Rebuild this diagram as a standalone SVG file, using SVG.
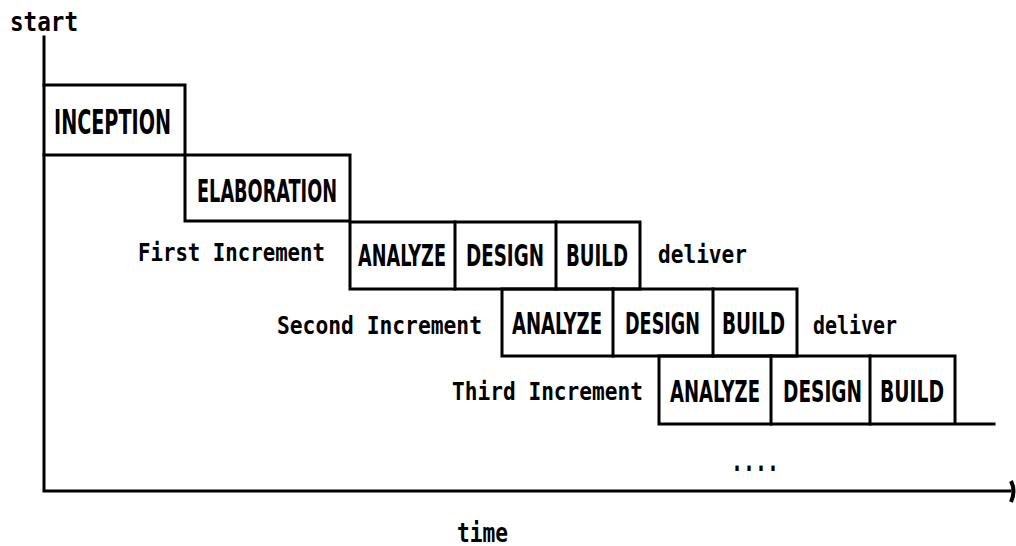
<svg xmlns="http://www.w3.org/2000/svg" width="1016" height="546" viewBox="0 0 1016 546">
<style>
.ln{fill:none;stroke:#000;stroke-width:3;stroke-linecap:square}
.cap{font-family:"DejaVu Sans Condensed","DejaVu Sans",sans-serif;font-weight:bold;fill:#000}
.txt{font-family:"DejaVu Sans Mono","Liberation Mono",monospace;font-weight:bold;fill:#000}
</style>
<rect width="1016" height="546" fill="#fff"/>
<g id="connectors">
<path class="ln" d="M44,37 V491 H1010"/>
<path class="ln" d="M1011,481 Q1016,491 1011,502" style="stroke-width:4;stroke-linecap:butt"/>
</g>
<g id="inception">
<path class="ln" d="M44,85 H185 V155 H44"/>
<text class="cap" x="54" y="134" font-size="34" textLength="117" lengthAdjust="spacingAndGlyphs">INCEPTION</text>
</g>
<g id="elaboration">
<path class="ln" d="M185,155 H350 V221 H185 Z"/>
<text class="cap" x="197" y="202" font-size="32" textLength="140" lengthAdjust="spacingAndGlyphs">ELABORATION</text>
</g>
<g id="first-increment">
<text class="txt" x="138" y="261" font-size="25" textLength="187" lengthAdjust="spacingAndGlyphs">First Increment</text>
<rect class="ln" x="350" y="222" width="290" height="67"/>
<path class="ln" d="M455,222 V289 M556,222 V289"/>
<text class="cap" x="358" y="266" font-size="30" textLength="88" lengthAdjust="spacingAndGlyphs">ANALYZE</text>
<text class="cap" x="466" y="266" font-size="30" textLength="78" lengthAdjust="spacingAndGlyphs">DESIGN</text>
<text class="cap" x="566" y="266" font-size="30" textLength="62" lengthAdjust="spacingAndGlyphs">BUILD</text>
<text class="txt" x="658" y="263" font-size="25" textLength="89" lengthAdjust="spacingAndGlyphs">deliver</text>
</g>
<g id="second-increment">
<text class="txt" x="277" y="334" font-size="25" textLength="205" lengthAdjust="spacingAndGlyphs">Second Increment</text>
<rect class="ln" x="502" y="289" width="295" height="67"/>
<path class="ln" d="M613,289 V356 M713,289 V356"/>
<text class="cap" x="512" y="334" font-size="30" textLength="90" lengthAdjust="spacingAndGlyphs">ANALYZE</text>
<text class="cap" x="625" y="334" font-size="30" textLength="75" lengthAdjust="spacingAndGlyphs">DESIGN</text>
<text class="cap" x="722" y="334" font-size="30" textLength="63" lengthAdjust="spacingAndGlyphs">BUILD</text>
<text class="txt" x="813" y="334" font-size="25" textLength="84" lengthAdjust="spacingAndGlyphs">deliver</text>
</g>
<g id="third-increment">
<text class="txt" x="452" y="400" font-size="25" textLength="191" lengthAdjust="spacingAndGlyphs">Third Increment</text>
<path class="ln" d="M659,356 H955 V424 M659,356 V424 H994"/>
<path class="ln" d="M771,356 V424 M870,356 V424"/>
<text class="cap" x="670" y="402" font-size="31" textLength="90" lengthAdjust="spacingAndGlyphs">ANALYZE</text>
<text class="cap" x="783" y="402" font-size="31" textLength="79" lengthAdjust="spacingAndGlyphs">DESIGN</text>
<text class="cap" x="880" y="402" font-size="31" textLength="64" lengthAdjust="spacingAndGlyphs">BUILD</text>
</g>
<g id="labels">
<text class="txt" x="10" y="31" font-size="26" textLength="68" lengthAdjust="spacingAndGlyphs">start</text>
<text class="txt" x="731" y="471" font-size="30" textLength="48" lengthAdjust="spacingAndGlyphs">....</text>
<text class="txt" x="457" y="542" font-size="27" textLength="51" lengthAdjust="spacingAndGlyphs">time</text>
</g>
</svg>
